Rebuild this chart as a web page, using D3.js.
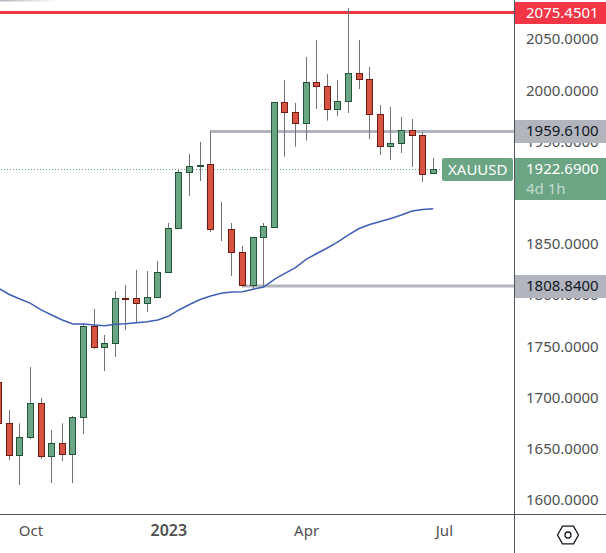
<!DOCTYPE html>
<html><head><meta charset="utf-8">
<script src="https://cdn.jsdelivr.net/npm/d3@7"></script>
<style>
html,body{margin:0;padding:0;background:#fff;overflow:hidden}
svg{display:block}
text{font-family:"Noto Sans",sans-serif;font-size:15px}
</style></head><body>
<svg id="c" width="606" height="553"></svg>
<script>
const opens=[1715.5,1674.9,1643.6,1661.2,1694.4,1642.7,1655.4,1644.6,1680.7,1769.6,1749.1,1753.0,1796.9,1796.9,1792.0,1797.9,1822.3,1865.2,1919.9,1925.8,1927.6,1864.3,1864.8,1841.8,1810.2,1856.4,1866.2,1988.2,1978.3,1968.3,2007.8,2004.4,1982.0,1989.2,2016.5,2011.3,1977.1,1945.9,1948.2,1960.9,1956.6,1919.5];
const closes=[1674.9,1643.6,1661.2,1694.4,1642.7,1655.4,1644.6,1680.7,1769.6,1749.1,1753.0,1796.9,1796.4,1792.0,1797.9,1822.3,1865.2,1919.9,1925.8,1927.3,1864.3,1864.8,1841.8,1810.2,1856.4,1867.2,1988.2,1978.3,1968.3,2007.8,2004.4,1982.0,1989.2,2016.5,2011.3,1977.1,1945.9,1948.2,1960.9,1956.6,1918.5,1922.69];
const highs=[1717.1,1687.9,1674.9,1729.8,1699.6,1668.3,1674.9,1682.0,1772.5,1786.5,1761.1,1804.0,1809.9,1824.5,1823.5,1833.3,1870.4,1922.1,1937.8,1949.5,1959.9,1890.9,1870.4,1848.0,1856.8,1870.4,1988.5,2010.0,1987.6,2032.5,2049.1,2015.9,2010.0,2080.3,2049.1,2022.7,1985.6,1983.7,1973.9,1971.9,1959.2,1933.9];
const lows=[1670.3,1639.0,1614.6,1659.5,1640.0,1616.6,1638.1,1616.6,1664.4,1747.4,1725.9,1739.6,1766.0,1773.8,1783.5,1797.9,1822.3,1865.2,1896.8,1911.4,1861.6,1852.8,1818.7,1808.2,1806.0,1808.2,1866.0,1935.1,1944.9,1950.8,1981.7,1970.3,1974.9,1977.8,2001.2,1952.4,1936.8,1931.9,1938.7,1925.1,1910.4,1918.5];
const ma=[1806.5,1800.6,1796.2,1792.0,1785.5,1780.6,1775.7,1771.8,1771.8,1770.8,1770.2,1771.5,1772.1,1773.1,1774.1,1775.7,1779.3,1785.5,1790.8,1795.7,1799.1,1801.8,1803.1,1803.3,1805.7,1807.9,1815.4,1821.3,1826.8,1834.8,1840.6,1846.0,1851.9,1858.7,1865.0,1868.9,1871.9,1874.8,1878.2,1882.1,1883.6,1884.4];
const priceTicks=[2050,2000,1950,1850,1800,1750,1700,1650,1600];
const timeTickIndex=[3,16,29,42];
const timeTickLabels=["Oct","2023","Apr","Jul"];
const levelHigh=2075.4501, levelMid=1959.61, levelLow=1808.84, lastPrice=1922.69;
const midStart=20, lowStart=23;

const svg=d3.select("#c");
const W=606,H=553,PX=514,PY=514;
const x=d3.scaleLinear().domain([0,41]).range([-1.3,433.3]);
const y=d3.scaleLinear().domain([1600,2050]).range([500,39]);
const sx=i=>Math.floor(x(i))+.5;

const defs=svg.append("defs");
defs.append("clipPath").attr("id","pl").append("rect").attr("width",PX).attr("height",PY);
const g=defs.append("linearGradient").attr("id","fade");
g.append("stop").attr("offset","0").attr("stop-color","#b2b5be");
g.append("stop").attr("offset","1").attr("stop-color","#b2b5be").attr("stop-opacity",0);

const plot=svg.append("g").attr("clip-path","url(#pl)");
plot.append("rect").attr("x",0).attr("y",0).attr("width",58).attr("height",1.5).attr("fill","url(#fade)");

// dotted last price line
plot.append("line").attr("x1",1).attr("x2",442).attr("y1",Math.floor(y(lastPrice))+.5).attr("y2",Math.floor(y(lastPrice))+.5)
  .attr("stroke","#6ba583").attr("stroke-width",1).attr("stroke-dasharray","1 2");

// level lines
plot.append("line").attr("x1",0).attr("x2",PX).attr("y1",12.5).attr("y2",12.5).attr("stroke","#f23645").attr("stroke-width",3);
plot.append("line").attr("x1",sx(midStart)-.5).attr("x2",PX).attr("y1",y(levelMid)).attr("y2",y(levelMid)).attr("stroke","#b2b5be").attr("stroke-width",3);
plot.append("line").attr("x1",sx(lowStart)-.5).attr("x2",PX).attr("y1",y(levelLow)).attr("y2",y(levelLow)).attr("stroke","#b2b5be").attr("stroke-width",3);

// candles
const idx=d3.range(opens.length);
plot.selectAll("line.w").data(idx).join("line").attr("class","w")
  .attr("x1",sx).attr("x2",sx).attr("y1",i=>y(highs[i])).attr("y2",i=>y(lows[i]))
  .attr("stroke","#737375").attr("stroke-width",1);
plot.selectAll("rect.b").data(idx).join("rect").attr("class","b")
  .attr("x",i=>sx(i)-3).attr("width",6)
  .attr("y",i=>Math.round(y(Math.max(opens[i],closes[i])))+.5)
  .attr("height",i=>Math.max(0,Math.round(y(Math.min(opens[i],closes[i])))-Math.round(y(Math.max(opens[i],closes[i])))))
  .attr("fill",i=>closes[i]>=opens[i]?"#6ba583":"#d75442")
  .attr("stroke",i=>closes[i]>=opens[i]?"#225437":"#6f1a12").attr("stroke-width",1);

// moving average
plot.append("path").attr("fill","none").attr("stroke","#3f5fb5").attr("stroke-width",1.5)
  .attr("d",d3.line().x(i=>x(i)).y(i=>y(ma[i]))(idx));

// axes
const yAxis=svg.append("g").attr("transform",`translate(${PX},0)`)
  .call(d3.axisRight(y).tickValues(priceTicks).tickSize(0).tickPadding(12).tickFormat(d3.format(".4f")));
yAxis.select(".domain").remove();
yAxis.selectAll("text").attr("fill","#505050").style("font-size","15px");
const xAxis=svg.append("g").attr("transform",`translate(0,${PY})`)
  .call(d3.axisBottom(x).tickValues(timeTickIndex).tickSize(0).tickPadding(11).tickFormat((d,i)=>timeTickLabels[i]));
xAxis.select(".domain").remove();
xAxis.selectAll("text").attr("fill","#505050").style("font-size",(d,i)=>i==1?"16px":"15px").style("font-weight",(d,i)=>i==1?600:400);

svg.append("line").attr("x1",0).attr("x2",W).attr("y1",PY+.5).attr("y2",PY+.5).attr("stroke","#50535e");
svg.append("line").attr("x1",PX+.5).attr("x2",PX+.5).attr("y1",0).attr("y2",H).attr("stroke","#50535e");

// price tags
function tag(v,top,h,fill,color){
  svg.append("rect").attr("x",PX+1).attr("y",top).attr("width",W-PX-1).attr("height",h).attr("fill",fill);
  svg.append("text").attr("x",526).attr("y",top+11).attr("dy","0.36em").attr("fill",color).text(v);
}
tag(d3.format(".4f")(levelHigh),2,22,"#f23645","#fff");
tag(d3.format(".4f")(levelMid),120,23,"#b2b5be","#131722");
tag(d3.format(".4f")(levelLow),275,23,"#b2b5be","#131722");
tag(d3.format(".4f")(lastPrice),158,42,"#6ba583","#fff");
svg.append("text").attr("x",526).attr("y",189).attr("dy","0.36em").attr("fill","#fff").attr("fill-opacity",.6).text("4d 1h");
svg.append("rect").attr("x",442).attr("y",158).attr("width",71).attr("height",23).attr("rx",2).attr("fill","#6ba583");
svg.append("text").attr("x",448).attr("y",169.5).attr("dy","0.36em").attr("fill","#fff").text("XAUUSD");

// settings icon
const ic=svg.append("g").attr("transform","translate(568,535)").attr("fill","none").attr("stroke","#131722").attr("stroke-width",1.3);
ic.append("path").attr("d","M-10.5,0L-5.5,-8.8H5.5L10.5,0L5.5,8.8H-5.5Z");
ic.append("circle").attr("r",3);
</script>
</body></html>
